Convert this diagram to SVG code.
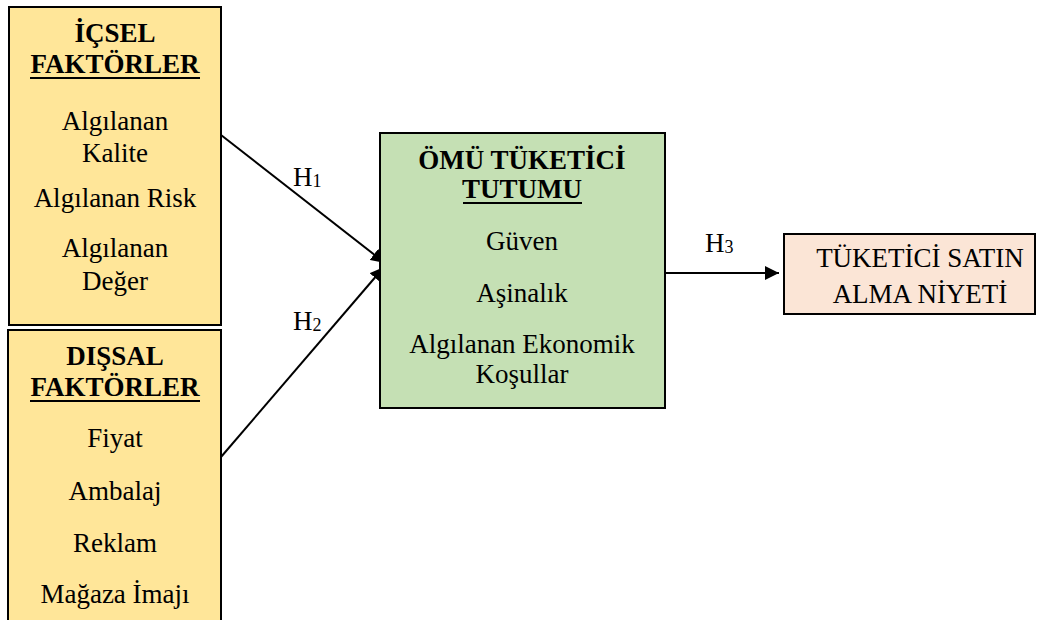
<svg xmlns="http://www.w3.org/2000/svg" width="1038" height="620" viewBox="0 0 1038 620" font-family="'Liberation Serif', 'Times New Roman', 'DejaVu Serif', serif">
<style>
text{font-family:'Liberation Serif','Times New Roman','DejaVu Serif',serif;font-size:27px;fill:#000;text-anchor:middle}
.b{font-weight:bold}
.box{stroke:#000;stroke-width:2}
.y{fill:#FFE699}
.g{fill:#C5E0B4}
.p{fill:#FBE5D6}
.ln{stroke:#000;stroke-width:2;fill:none;marker-end:url(#ah)}
.ul{stroke:#000;stroke-width:2}
.sub{font-size:18px}
.st{text-anchor:start}
</style>
<defs>
<marker id="ah" viewBox="0 0 10 10" refX="10" refY="5" markerWidth="14" markerHeight="14" markerUnits="userSpaceOnUse" orient="auto">
<path d="M0,0 L10,5 L0,10 z" fill="#000"/>
</marker>
</defs>
<rect width="1038" height="620" fill="#fff"/>
<g id="connectors">
<path d="M221,135 L385,263" class="ln"/>
<path d="M221,457 L384,267" class="ln"/>
<path d="M665,273 L779,273" class="ln"/>
<text x="293" y="186" class="st">H<tspan class="sub" dy="1">1</tspan></text>
<text x="293" y="330" class="st">H<tspan class="sub" dy="1">2</tspan></text>
<text x="705" y="252" class="st">H<tspan class="sub" dy="1">3</tspan></text>
</g>
<g id="icsel">
<rect class="box y" x="9" y="7" width="212" height="318"/>
<text class="b" x="115" y="42">İÇSEL</text>
<text class="b" x="115" y="73">FAKTÖRLER</text>
<line class="ul" x1="30" y1="78" x2="200" y2="78"/>
<text x="115" y="130">Algılanan</text>
<text x="115" y="162">Kalite</text>
<text x="115" y="207">Algılanan Risk</text>
<text x="115" y="257">Algılanan</text>
<text x="115" y="290">Değer</text>
</g>
<g id="dissal">
<rect class="box y" x="8" y="330" width="213" height="300"/>
<text class="b" x="115" y="365">DIŞSAL</text>
<text class="b" x="115" y="396">FAKTÖRLER</text>
<line class="ul" x1="30" y1="401" x2="200" y2="401"/>
<text x="115" y="447">Fiyat</text>
<text x="115" y="500">Ambalaj</text>
<text x="115" y="552">Reklam</text>
<text x="115" y="603">Mağaza İmajı</text>
</g>
<g id="tutum">
<rect class="box g" x="380" y="133" width="285" height="275"/>
<text class="b" x="522" y="169">ÖMÜ TÜKETİCİ</text>
<text class="b" x="522" y="198">TUTUMU</text>
<line class="ul" x1="463" y1="203" x2="582" y2="203"/>
<text x="522" y="250">Güven</text>
<text x="522" y="302">Aşinalık</text>
<text x="522" y="353">Algılanan Ekonomik</text>
<text x="522" y="383">Koşullar</text>
</g>
<g id="niyet">
<rect class="box p" x="784" y="234" width="251" height="80"/>
<text x="920" y="267">TÜKETİCİ SATIN</text>
<text x="920" y="303">ALMA NİYETİ</text>
</g>
</svg>
